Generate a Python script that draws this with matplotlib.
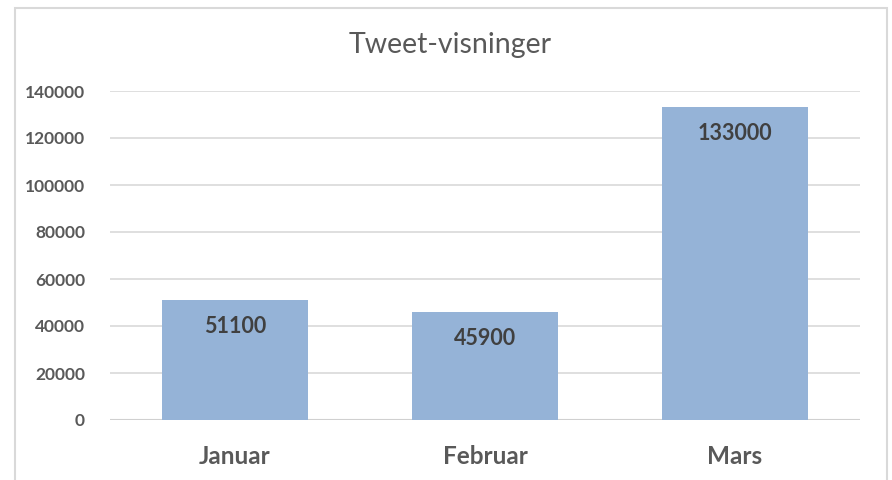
import matplotlib.pyplot as plt
from matplotlib.patches import Rectangle

# data
months = ["Januar", "Februar", "Mars"]
views = [51100, 45900, 133000]
y_ticks = [0, 20000, 40000, 60000, 80000, 100000, 120000, 140000]

plt.rcParams['font.family'] = ['Lato', 'DejaVu Sans']

fig = plt.figure(figsize=(8.92, 4.8), dpi=100)
ax = fig.add_axes([110 / 892, 60 / 480, 750 / 892, 329 / 480])

# light frame round the chart, like an Excel chart area
fig.patches.append(Rectangle((15 / 892, -0.05), 872 / 892, 1.05 - 8 / 480,
                             transform=fig.transFigure, fill=False,
                             edgecolor="#d9d9d9", linewidth=1.5))

x = range(len(months))
bars = ax.bar(x, views, width=0.585, color="#95b3d7", zorder=3)

for b, v in zip(bars, views):
    ax.annotate(str(v), (b.get_x() + b.get_width() / 2, v),
                xytext=(0, -19), textcoords="offset points",
                ha="center", va="center", fontsize=15.5, fontweight="bold",
                color="#404040", zorder=4)

ax.set_xlim(-0.5, 2.5)
ax.set_ylim(0, 140000)
ax.set_yticks(y_ticks)
ax.set_yticklabels([str(t) for t in y_ticks])
ax.set_xticks(list(x))
ax.set_xticklabels(months)

ax.grid(axis="y", color="#d9d9d9", linewidth=1.2, zorder=0)
for s in ["top", "right", "left", "bottom"]:
    ax.spines[s].set_visible(False)
ax.axhline(0, color="#d0d0d0", linewidth=1.5, zorder=2)

ax.tick_params(axis="y", length=0, pad=18, labelsize=12.5, labelcolor="#595959")
ax.tick_params(axis="x", length=0, pad=18, labelsize=17.5, labelcolor="#595959")
for lab in ax.get_yticklabels() + ax.get_xticklabels():
    lab.set_fontweight("bold")

fig.text(450 / 892, 1 - 45 / 480, "Tweet-visninger", ha="center", va="center",
         fontsize=20.5, color="#595959")

fig.savefig("out.png", dpi=100)
